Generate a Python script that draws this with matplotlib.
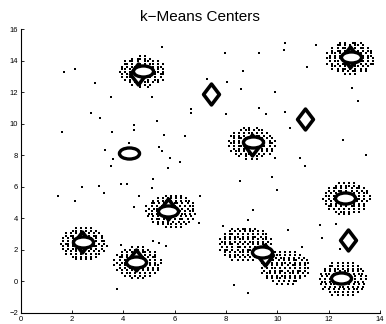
import matplotlib
matplotlib.use("Agg")
import matplotlib.pyplot as plt
from matplotlib.path import Path
import numpy as np

# true centres (circles) and k-means centres (diamonds)
circ_x = [4.75, 12.88, 4.23, 9.05, 12.63, 5.75, 2.43, 4.48, 9.4, 12.48]
circ_y = [13.33, 14.23, 8.15, 8.86, 5.27, 4.47, 2.48, 1.26, 1.86, 0.25]

diam_x = [4.58, 12.83, 7.41, 11.07, 9.0, 12.74, 5.75, 2.4, 4.51, 9.52]
diam_y = [13.15, 14.22, 11.87, 10.33, 8.68, 2.66, 4.62, 2.52, 1.36, 1.7]

# loose points between the clusters
free_x = [5.5, 1.7, 2.1, 2.9, 3.5, 2.75, 3.1, 1.6, 4.4, 4.4, 3.55, 5.1, 5.3, 5.6,
          6.4, 4.2, 3.3, 3.6, 3.5, 5.4, 5.5, 5.8, 6.2, 5.75, 5.15, 5.1, 3.9, 4.15,
          3.05, 2.4, 3.25, 1.45, 2.1, 4.6, 4.4, 7.0, 6.95, 5.15, 5.4, 5.65, 3.9,
          3.75, 7.25, 7.95, 8.05, 8.65, 8.6, 9.3, 8.0, 6.65, 6.65, 9.3, 9.55, 9.9,
          10.25, 10.3, 11.5, 11.15, 10.3, 10.5, 10.9, 11.1, 9.9, 9.8, 10.0, 8.55,
          9.05, 8.85, 7.9, 10.4, 11.65, 11.75, 10.95, 12.3, 12.45, 12.55, 12.9,
          13.15, 13.45, 8.3, 8.85]
free_y = [14.9, 13.3, 13.45, 12.6, 11.7, 10.7, 10.35, 9.45, 9.95, 9.6, 9.5, 11.7,
          10.2, 9.3, 9.2, 8.8, 8.35, 7.75, 7.35, 8.55, 8.3, 7.85, 7.55, 7.2, 6.5,
          5.9, 6.15, 6.15, 6.05, 6.0, 5.6, 5.45, 5.1, 5.45, 4.75, 5.45, 3.7, 2.55,
          2.45, 2.25, 2.3, -0.45, 12.85, 14.5, 12.65, 13.35, 12.2, 14.5, 10.65,
          10.95, 10.7, 11.0, 10.65, 12.0, 14.7, 15.1, 15.0, 13.6, 10.75, 9.7, 7.8,
          7.3, 7.8, 6.65, 5.8, 6.4, 4.5, 3.9, 3.5, 3.25, 3.55, 2.75, 2.2, 3.65,
          2.05, 8.95, 12.3, 11.45, 8.0, -0.25, -0.75]

# clusters: centre of the cloud plus a rough dot map (top row = highest y)
clusters = [
    ((4.75, 13.3), ["..#.#..",
                    ".#.##.#.#..",
                    "#.##.#..##.#.#.",
                    ".##.#.##.#.##.#.#",
                    "#.#.##.#..#.#.##.",
                    ".##.#.#.##.#.#.#.#.",
                    "#.#.##.#....#.##.#.",
                    ".#.#.#.##.#.#.#.##.",
                    "#.##.#..#.##.#.#.",
                    ".#.#.##.#.#..##.#",
                    "..#.#.#.##.#.#.",
                    ".#.##.#.#..",
                    "..#..#."]),
    ((12.85, 14.15), ["#.#..##.#",
                      ".##.#.#.##.#.",
                      "#.#.##.#.#.##.#",
                      ".#.##.#.##.#.#.##",
                      "#.##.#.#..#.##.#.#.",
                      ".#.#.##.#...#.#.##.",
                      "##.#.#.#....#.#.#.#",
                      ".#.##.#.#..#.##.#.#",
                      "#.#.#.##.#.#.#.#.##",
                      ".##.#.#.#.##.#.#.",
                      "#.#.##.#.#.#.#.",
                      ".#.#.#.##.#.#",
                      "..#.#.#.."]),
    ((9.0, 8.75), ["#.#..#.",
                   ".#.##.#.##.",
                   "#.#.#.##.#.#.#.",
                   "##.#.#..#.##.#.#.",
                   ".#.##.#.#.#.#.#.#",
                   "#.#.#.##.#.##.#.#.#",
                   ".##.#.#.....#.#.##.",
                   "#.#.##.#.#.#.##.#.#",
                   ".#.#.#.##.#.#.#.#",
                   "#.##.#.#.##.#.#.#",
                   ".#.#.##.#.#.#.#",
                   "#..#.#.#.#.",
                   ".#.#.#."]),
    ((12.7, 5.25), ["#.#.#.#",
                    ".#.#.##.#.#",
                    "#.##.#.#.#.##.#",
                    ".#.#.##.#.#.#.#.#",
                    "#.#.#.#.##.#.#.##",
                    ".##.#.#.#...#.#.#.#",
                    "#.#.##.......##.#.#",
                    ".#.#.#.#...#.#.#.#.",
                    "#.#.#.##.#.#.#.#.",
                    ".##.#.#.#.##.#.#.",
                    "#.#.#.#.#.#.#.#",
                    ".#.##.#.#.#",
                    "#.#.#.."]),
    ((5.85, 4.45), ["..#.#.#.#",
                    ".#.#.##.#.#.#",
                    "#.#.##.#.#.#.##",
                    ".##.#.#.#.##.#.#.#",
                    "#.#.#.##.#.#.#.#.##.",
                    ".#.##.#.....#.#.#.#.",
                    "#.#.#.#......#.#.##.",
                    ".##.#.#.#...#.##.#.#",
                    "#.#.#.##.#.#.#.#.#.",
                    ".#.##.#.#.#.##.#.#",
                    "#.#.#.#.#.#.#.#",
                    ".#.#.##.#.#.#",
                    "..#.#.#.#"]),
    ((2.45, 2.4), ["#.#.#.#",
                   ".##.#.#.#.#",
                   "#.#.#.##.#.#.#.",
                   ".#.##.#.#.#.##.#.",
                   "#.#.#.#.##.#.#.#.",
                   ".#.#.##.#...#.#.##.",
                   "#.##.#.......#.#.#.",
                   ".#.#.#.#...#.##.#.#",
                   "#.#.##.#.#.#.#.#.",
                   ".#.#.#.##.#.#.#.#",
                   "#.#.#.#.#.#.##.",
                   ".##.#.#.#.#",
                   "#.#.#.#"]),
    ((4.55, 1.2), [".#.#.#.",
                   "#.#.##.#.#.",
                   ".#.#.#.#.##.#.#",
                   "#.#.#.##.#.#.#.#.",
                   ".##.#.#.#.#.#.##.",
                   "#.#.#.#.#...#.#.#.#",
                   ".#.##.#.....#.#.#.#",
                   "#.#.#.#.#...#.#.##.",
                   ".#.#.##.#.#.#.#.#",
                   "#.#.#.#.#.#.#.#.#",
                   ".#.##.#.#.#.#.#",
                   "#.#.#.#.#.#",
                   ".#.#.#."]),
    ((8.75, 2.35), ["#.#.##.#.#.",
                    ".#.#.#.#.##.#.#",
                    "#.##.#.#.#.#.#.##",
                    ".#.#.##.#.#.##.#.#.",
                    "#.#.#.#.##.#.#.#.##.#",
                    ".##.#.#.#.#.##.#.#.#.",
                    "#.#.##.#.#.#.#.#.##.#",
                    ".#.#.#.##.#.#.##.#.#.",
                    "#.##.#.#.#.##.#.#.#.#",
                    ".#.#.#.##.#.#.#.#.#",
                    "#.#.##.#.#.#.#.#.",
                    ".#.#.#.#.#.##.#",
                    "#.#.#.#.#.."]),
    ((10.3, 0.85), ["#.#.#.#.#",
                    ".#.##.#.#.#.#",
                    "#.#.#.##.#.#.#.#",
                    ".#.##.#.#.#.##.#.#",
                    "#.#.#.#.##.#.#.#.##",
                    ".##.#.#.#.#.##.#.#.",
                    "#.#.##.#.#.#.#.#.##",
                    ".#.#.#.##.#.#.##.#.",
                    "#.##.#.#.#.##.#.#.#",
                    ".#.#.#.##.#.#.#.#",
                    "#.#.##.#.#.#.#.",
                    ".#.#.#.#.##.",
                    "#.#.#.#"]),
    ((12.55, 0.15), ["#.#.#.#.#",
                     ".##.#.#.#.#.#",
                     "#.#.##.#.#.#.##",
                     ".#.#.#.#.##.#.#.#",
                     "#.##.#.#.#.#.#.##.",
                     ".#.#.##.#...#.#.#.#",
                     "#.#.#.#.......#.#.#",
                     ".##.#.#.#...#.##.#.",
                     "#.#.##.#.#.#.#.#.#",
                     ".#.#.#.##.#.#.#.#",
                     "#.#.#.#.#.#.##.#",
                     ".#.##.#.#.#.#",
                     "#.#.#.#.#"]),
]

dx, dy = 0.1, 0.165

dot_x, dot_y = list(free_x), list(free_y)
for (cx, cy), rows in clusters:
    n = len(rows)
    for i, row in enumerate(rows):
        yy = cy + ((n - 1) / 2 - i) * dy
        for j, ch in enumerate(row):
            if ch == "#":
                dot_x.append(cx + (j - (len(row) - 1) / 2) * dx)
                dot_y.append(yy)

plt.rcParams["font.family"] = ["Liberation Sans", "DejaVu Sans"]

fig = plt.figure(figsize=(3.86, 3.24), dpi=100, facecolor="white")
ax = fig.add_axes([0.054, 0.034, 0.93, 0.876])

ax.plot(dot_x, dot_y, "s", color="black", ms=1.6, mew=0)

# squashed circle and narrow diamond like the original markers
ell = Path.unit_circle().transformed(matplotlib.transforms.Affine2D().scale(1, 0.55))
dia = Path([(0, 1), (0.76, 0), (0, -1), (-0.76, 0), (0, 1)],
           [Path.MOVETO, Path.LINETO, Path.LINETO, Path.LINETO, Path.CLOSEPOLY])

ax.plot(diam_x, diam_y, ls="none", marker=dia, ms=15, mfc="white", mec="black", mew=2.6)
ax.plot(circ_x, circ_y, ls="none", marker=ell, ms=14.5, mfc="white", mec="black", mew=2.4)

ax.set_xlim(0, 14)
ax.set_ylim(-2, 16)
ax.set_xticks(range(0, 15, 2))
ax.set_yticks(range(-2, 17, 2))
ax.spines["top"].set_visible(False)
ax.spines["right"].set_visible(False)
ax.spines["left"].set_linewidth(0.8)
ax.spines["bottom"].set_linewidth(0.8)
ax.tick_params(direction="in", length=2.5, width=0.6, labelsize=5.5, pad=2)

ax.set_title("k\u2212Means Centers", fontsize=11, pad=6)

fig.savefig("out.png", dpi=100)
